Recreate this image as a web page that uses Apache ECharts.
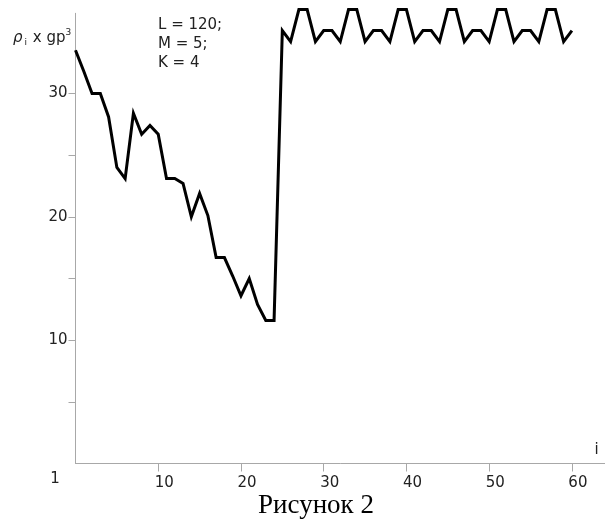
<!DOCTYPE html>
<html>
<head>
<meta charset="utf-8">
<script src="https://cdn.jsdelivr.net/npm/echarts@6/dist/echarts.min.js"></script>
<style>html,body{margin:0;padding:0;background:#fff}#c{width:605px;height:521px}</style>
</head>
<body>
<div id="c"></div>
<script>
// i values (x) and rho_i x gp^3 values (y)
var iValues = [0,1,2,3,4,5,6,7,8,9,10,11,12,13,14,15,16,17,18,19,20,21,22,23,24,25,26,27,28,29,30,31,32,33,34,35,36,37,38,39,40,41,42,43,44,45,46,47,48,49,50,51,52,53,54,55,56,57,58,59,60];
var rhoValues = [
  33.5, 31.8, 30.0, 30.0, 28.1, 24.0, 23.1, 28.4, 26.7, 27.4,
  26.7, 23.1, 23.1, 22.7, 20.0, 21.9, 20.1, 16.7, 16.7, 15.2,
  13.6, 15.0, 12.9, 11.6, 11.6, 35.1, 34.2, 36.8, 36.8, 34.2,
  35.1, 35.1, 34.2, 36.8, 36.8, 34.2, 35.1, 35.1, 34.2, 36.8,
  36.8, 34.2, 35.1, 35.1, 34.2, 36.8, 36.8, 34.2, 35.1, 35.1,
  34.2, 36.8, 36.8, 34.2, 35.1, 35.1, 34.2, 36.8, 36.8, 34.2,
  35.1
];
var xTicks = [10, 20, 30, 40, 50, 60];
var yTicks = [5, 10, 15, 20, 25, 30];
var yLabels = [10, 20, 30];
var annotationLines = ['L = 120;', 'M = 5;', 'K = 4'];
var captionText = 'Рисунок 2';
var originLabel = '1';
var xName = 'i';

var points = iValues.map(function (x, k) { return [x, rhoValues[k]]; });

var chart = echarts.init(document.getElementById('c'), null, { renderer: 'canvas' });
var axisColor = '#a8a8a8';
var textColor = '#222';
var font = 'DejaVu Sans';

var graphics = [
  { type: 'text', left: null, x: 13, y: 38, style: {
      text: '{r|ρ}{s|i}{t| x gp}{u|3}', verticalAlign: 'middle', fill: textColor,
      rich: {
        r: { fontFamily: font, fontStyle: 'italic', fontSize: 15, fill: textColor },
        s: { fontFamily: font, fontSize: 9, fill: textColor, padding: [10, 1, 0, 2] },
        t: { fontFamily: font, fontSize: 15, fill: textColor },
        u: { fontFamily: font, fontSize: 9, fill: textColor, padding: [0, 0, 10, 0] }
      }
  } },
  { type: 'text', x: 55, y: 479, style: { text: originLabel, fontFamily: font, fontSize: 15, fill: textColor, align: 'center', verticalAlign: 'middle' } },
  { type: 'text', x: 596.5, y: 450, style: { text: xName, fontFamily: font, fontSize: 15, fill: textColor, align: 'center', verticalAlign: 'middle' } },
  { type: 'text', x: 316, y: 506, style: { text: captionText, fontFamily: 'Liberation Serif', fontSize: 27, fill: '#000', align: 'center', verticalAlign: 'middle' } }
];
annotationLines.forEach(function (t, k) {
  graphics.push({ type: 'text', x: 158, y: 25 + k * 19, style: { text: t, fontFamily: font, fontSize: 15, fill: textColor, align: 'left', verticalAlign: 'middle' } });
});

chart.setOption({
  animation: false,
  backgroundColor: '#fff',
  grid: { left: 75.5, top: 13.3, width: 532, height: 450.2, containLabel: false },
  xAxis: {
    type: 'value', min: 0, max: 64,
    axisLine: { show: true, lineStyle: { color: axisColor, width: 1 } },
    axisTick: { show: true, length: 8, inside: false, lineStyle: { color: axisColor }, customValues: xTicks },
    axisLabel: { show: true, customValues: xTicks, margin: 12, fontFamily: font, fontSize: 15, color: textColor, padding: [0, 0, 0, 12] },
    splitLine: { show: false }
  },
  yAxis: {
    type: 'value', min: 0, max: 36.5,
    axisLine: { show: true, lineStyle: { color: axisColor, width: 1 } },
    axisTick: { show: true, length: 7, inside: false, lineStyle: { color: axisColor }, customValues: yTicks },
    axisLabel: { show: true, customValues: yLabels, margin: 8, fontFamily: font, fontSize: 15, color: textColor },
    splitLine: { show: false }
  },
  series: [{
    type: 'line', data: points, showSymbol: false, symbol: 'none', clip: false,
    lineStyle: { color: '#000', width: 3, join: 'miter' }
  }],
  graphic: graphics
});
</script>
</body>
</html>
